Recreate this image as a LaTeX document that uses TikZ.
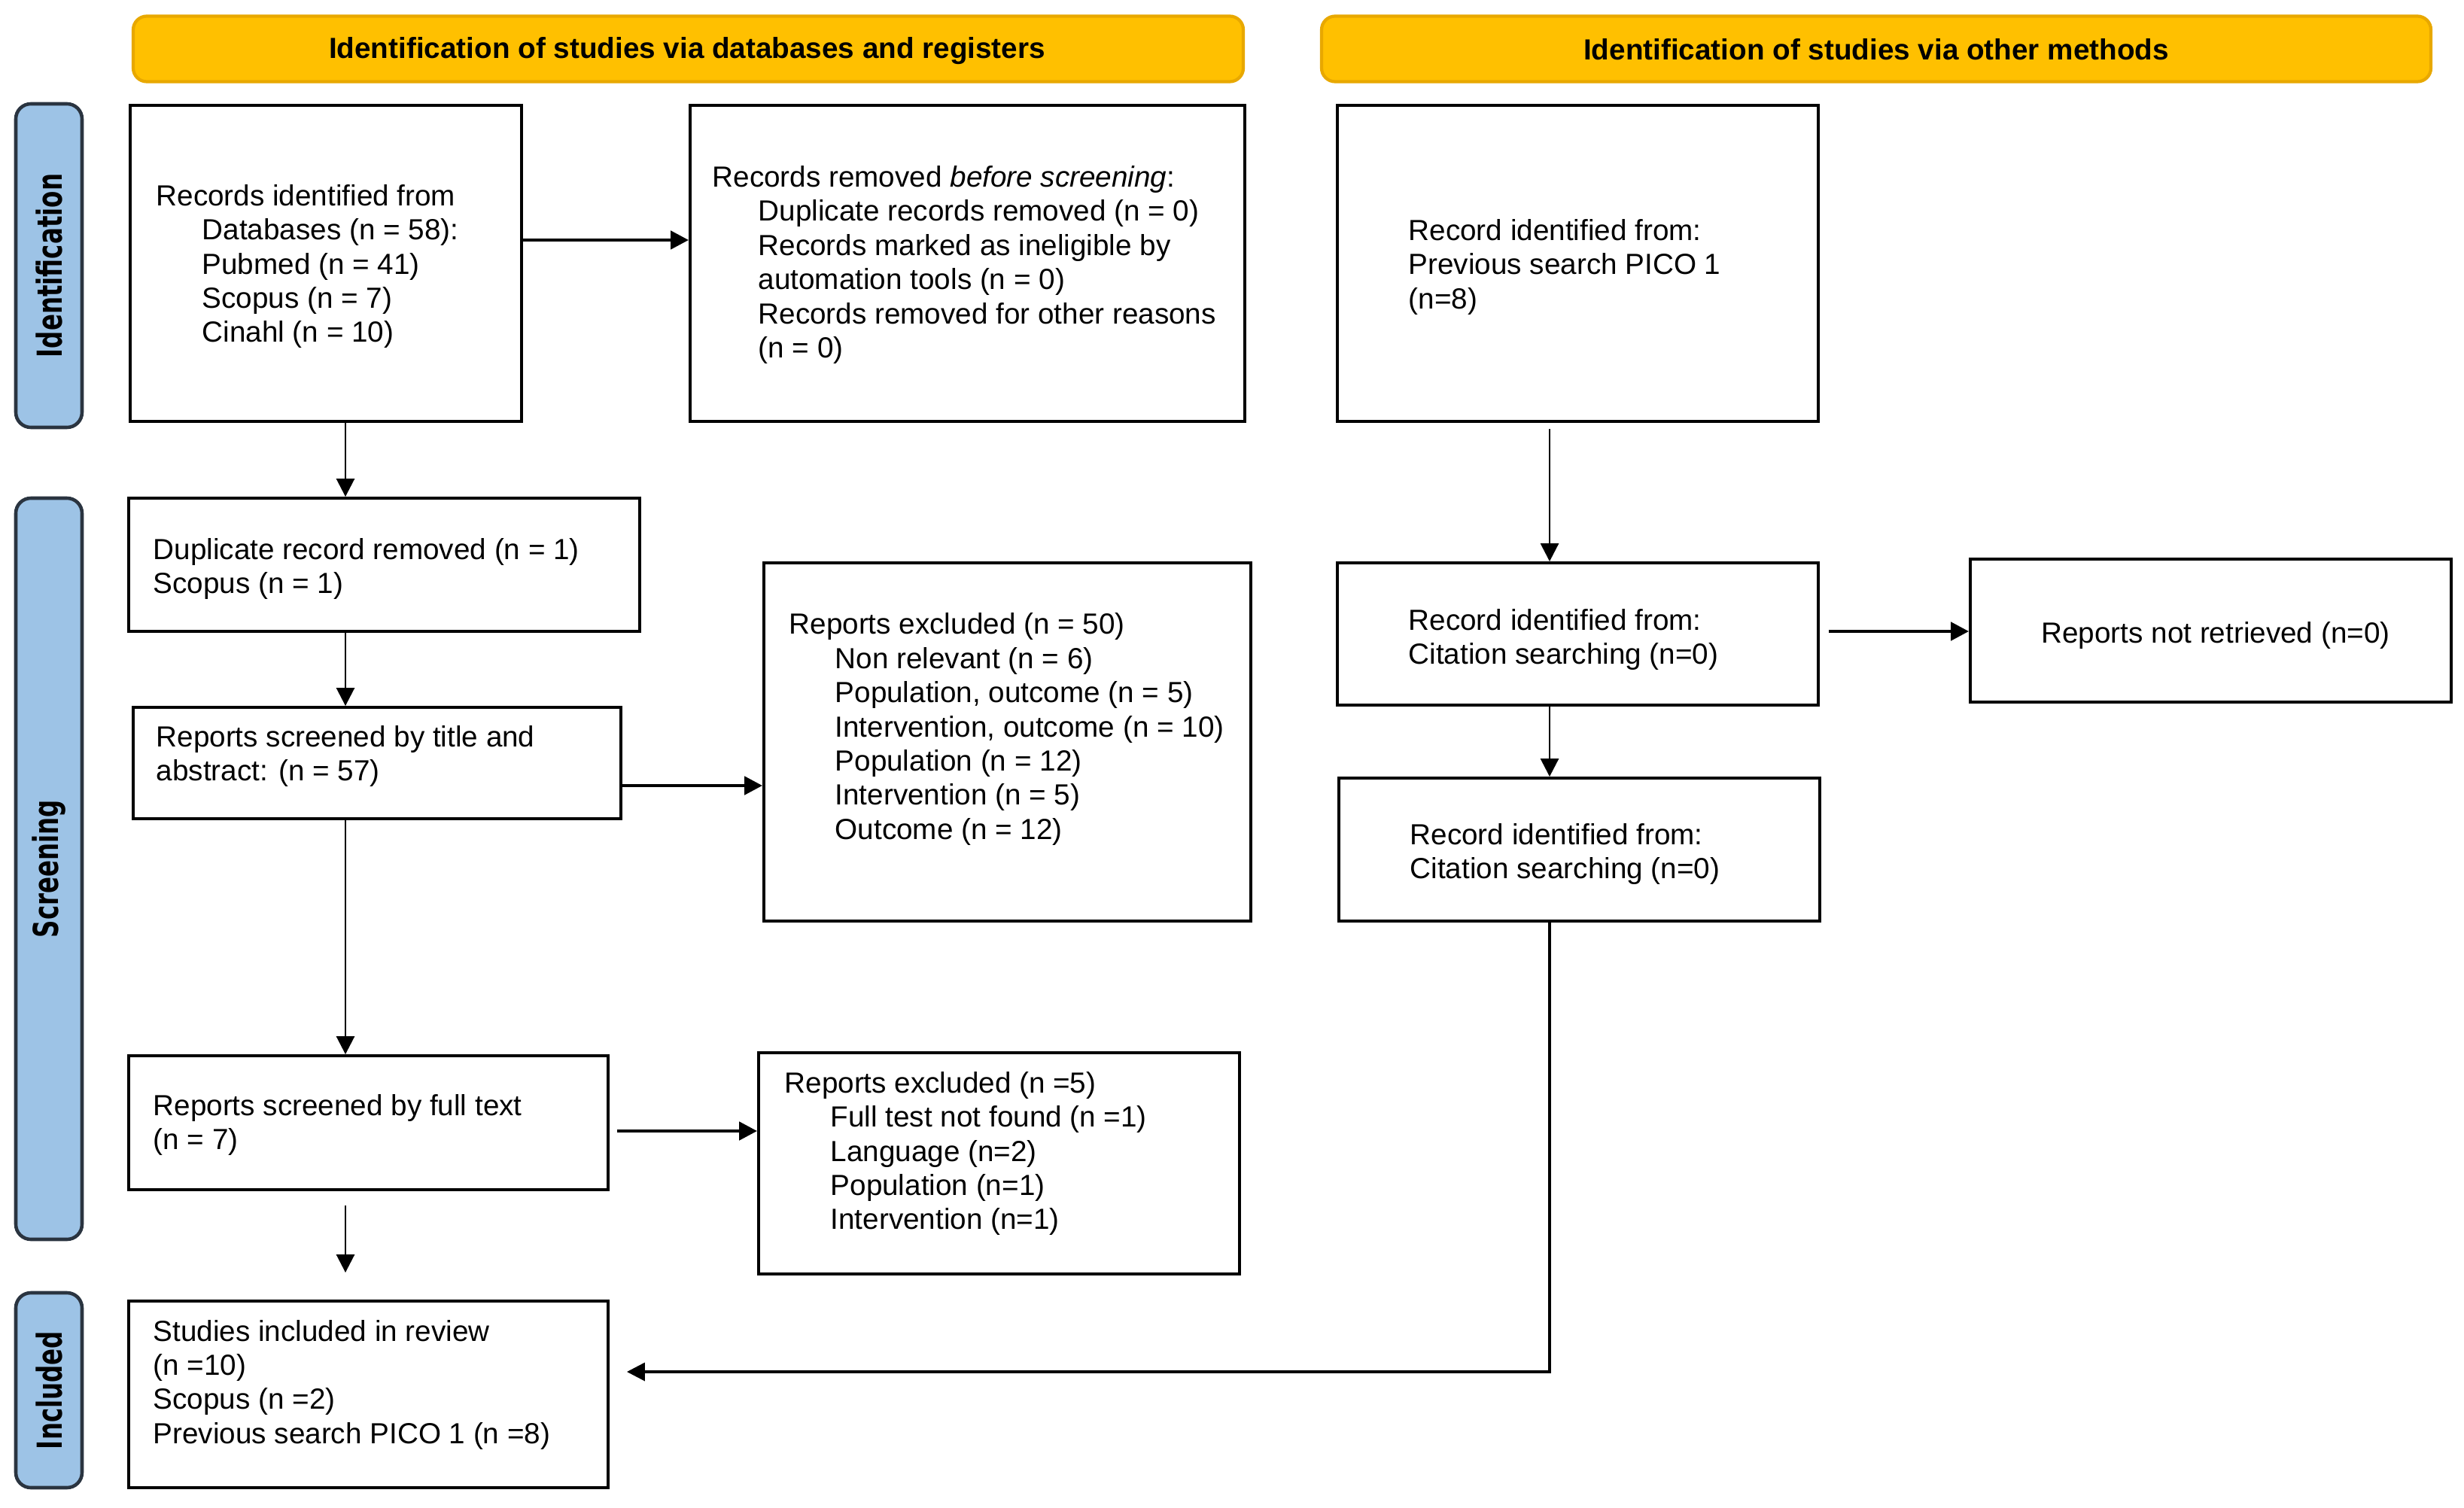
\documentclass[tikz,border=0pt]{standalone}
\usepackage{fontspec}
\setmainfont{Liberation Sans}
\newfontfamily\sidefont{DejaVu Sans}
\usepackage{graphicx}
\usetikzlibrary{arrows.meta,calc}
\definecolor{hdrfill}{HTML}{FFC000}
\definecolor{hdrline}{HTML}{E8A800}
\definecolor{sidefill}{HTML}{9DC3E6}
\definecolor{sideline}{HTML}{2A3440}
\tikzset{
  hdr/.style={draw=hdrline, line width=1.2pt, fill=hdrfill, rounded corners=0.18cm, inner sep=0pt,
    font=\fontsize{11}{13}\selectfont\bfseries},
  side/.style={draw=sideline, line width=1.3pt, fill=sidefill, rounded corners=0.2cm, inner sep=0pt,
    minimum width=0.88cm},
  sidetxt/.style={rotate=90, inner sep=0pt, font=\sidefont\fontsize{13}{15}\selectfont\bfseries},
  boxx/.style={draw=black, line width=1.1pt, fill=white, inner sep=0pt},
  txt/.style={anchor=west, inner sep=0pt, align=left, font=\fontsize{11}{12.9}\selectfont},
  tip/.style={-{Triangle[length=0.24cm,width=0.24cm]}},
  arrV/.style={tip, line width=0.8pt},
  arrH/.style={tip, line width=1.4pt},
}
\newcommand{\ind}{\hspace*{0.61cm}}
\begin{document}
\begin{tikzpicture}
\useasboundingbox (0,0) rectangle (32.74,-20.04);
% headers
\node[hdr, minimum width=14.75cm, minimum height=0.87cm] (h1) at (9.145,-0.65) {};
\node[hdr, draw=none, fill=none] (h1t) at (9.13,-0.68) {Identification of studies via databases and registers};
\node[hdr, minimum width=14.74cm, minimum height=0.87cm] (h2) at (24.93,-0.65) {};
\node[hdr, draw=none, fill=none] (h2t) at (24.93,-0.66) {Identification of studies via other methods};
% side bars
\node[side, minimum height=4.30cm] (s1) at (0.65,-3.53) {};
\node[sidetxt] (s1t) at (s1.center) {\scalebox{0.71}[1]{Identification}};
\node[side, minimum height=9.85cm] (s2) at (0.65,-11.545) {};
\node[sidetxt] (s2t) at (s2.center) {\scalebox{0.71}[1]{Screening}};
\node[side, minimum height=2.59cm] (s3) at (0.65,-18.475) {};
\node[sidetxt] (s3t) at (s3.center) {\scalebox{0.71}[1]{Included}};
% boxes
\node[boxx, minimum width=5.20cm, minimum height=4.20cm] (b1) at (4.33,-3.50) {};
\node[boxx, minimum width=7.37cm, minimum height=4.20cm] (b2) at (12.855,-3.50) {};
\node[boxx, minimum width=6.39cm, minimum height=4.20cm] (b3) at (20.965,-3.50) {};
\node[boxx, minimum width=6.79cm, minimum height=1.77cm] (b4) at (5.105,-7.505) {};
\node[boxx, minimum width=6.48cm, minimum height=1.48cm] (b5) at (5.01,-10.14) {};
\node[boxx, minimum width=6.47cm, minimum height=4.76cm] (b6) at (13.385,-9.86) {};
\node[boxx, minimum width=6.39cm, minimum height=1.89cm] (b7) at (20.965,-8.425) {};
\node[boxx, minimum width=6.39cm, minimum height=1.90cm] (b8) at (29.375,-8.38) {};
\node[boxx, minimum width=6.39cm, minimum height=1.90cm] (b9) at (20.985,-11.29) {};
\node[boxx, minimum width=6.37cm, minimum height=1.78cm] (b10) at (4.895,-14.92) {};
\node[boxx, minimum width=6.39cm, minimum height=2.94cm] (b11) at (13.275,-15.46) {};
\node[boxx, minimum width=6.37cm, minimum height=2.48cm] (b12) at (4.895,-18.53) {};
% texts
\node[txt] (t1) at (2.07,-3.54) {Records identified from\\\ind Databases (n = 58):\\\ind Pubmed (n = 41)\\\ind Scopus (n = 7)\\\ind Cinahl (n = 10)};
\node[txt] (t2) at (9.46,-3.52) {Records removed \textit{before screening}:\\\ind Duplicate records removed (n = 0)\\\ind Records marked as ineligible by\\\ind automation tools (n = 0)\\\ind Records removed for other reasons\\\ind (n = 0)};
\node[txt] (t3) at (18.71,-3.55) {Record identified from:\\Previous search PICO 1\\(n=8)};
\node[txt] (t4) at (2.03,-7.56) {Duplicate record removed (n = 1)\\Scopus (n = 1)};
\node[txt] (t5) at (2.07,-10.05) {Reports screened by title and\\abstract: (n = 57)};
\node[txt] (t6) at (10.48,-9.69) {Reports excluded (n = 50)\\\ind Non relevant (n = 6)\\\ind Population, outcome (n = 5)\\\ind Intervention, outcome (n = 10)\\\ind Population (n = 12)\\\ind Intervention (n = 5)\\\ind Outcome (n = 12)};
\node[txt] (t7) at (18.71,-8.50) {Record identified from:\\Citation searching (n=0)};
\node[txt, anchor=center] (t8) at (29.44,-8.44) {Reports not retrieved (n=0)};
\node[txt] (t9) at (18.73,-11.35) {Record identified from:\\Citation searching (n=0)};
\node[txt] (t10) at (2.03,-14.95) {Reports screened by full text\\(n = 7)};
\node[txt] (t11) at (10.42,-15.33) {Reports excluded (n =5)\\\ind Full test not found (n =1)\\\ind Language (n=2)\\\ind Population (n=1)\\\ind Intervention (n=1)};
\node[txt] (t12) at (2.03,-18.40) {Studies included in review\\(n =10)\\Scopus (n =2)\\Previous search PICO 1 (n =8)};
% connector guides
\coordinate (cl) at (4.59,0);
\coordinate (cr) at (20.59,0);
\coordinate (r1) at (0,-3.19);
\coordinate (r5) at (0,-10.44);
\coordinate (r7) at (0,-8.39);
\coordinate (r10) at (0,-15.03);
\coordinate (r12) at (0,-18.23);
% connectors
\draw[arrH] (b1.east |- r1) -- (b2.west |- r1);
\draw[arrV] (b1.south -| cl) -- (b4.north -| cl);
\draw[arrV] (b4.south -| cl) -- (b5.north -| cl);
\draw[arrH] (b5.east |- r5) -- (b6.west |- r5);
\draw[arrV] (b5.south -| cl) -- (b10.north -| cl);
\draw[arrH, shorten <=0.10cm] (b10.east |- r10) -- (b11.west |- r10);
\draw[arrV, shorten <=0.19cm, shorten >=0.36cm] (b10.south -| cl) -- (b12.north -| cl);
\draw[arrV, shorten <=0.08cm] (b3.south -| cr) -- (b7.north -| cr);
\draw[arrV] (b7.south -| cr) -- (b9.north -| cr);
\draw[arrH, shorten <=0.12cm] (b7.east |- r7) -- (b8.west |- r7);
\draw[tip, line width=1pt, shorten >=0.23cm] (b9.south -| cr) |- (b12.east |- r12);
\end{tikzpicture}
\end{document}
